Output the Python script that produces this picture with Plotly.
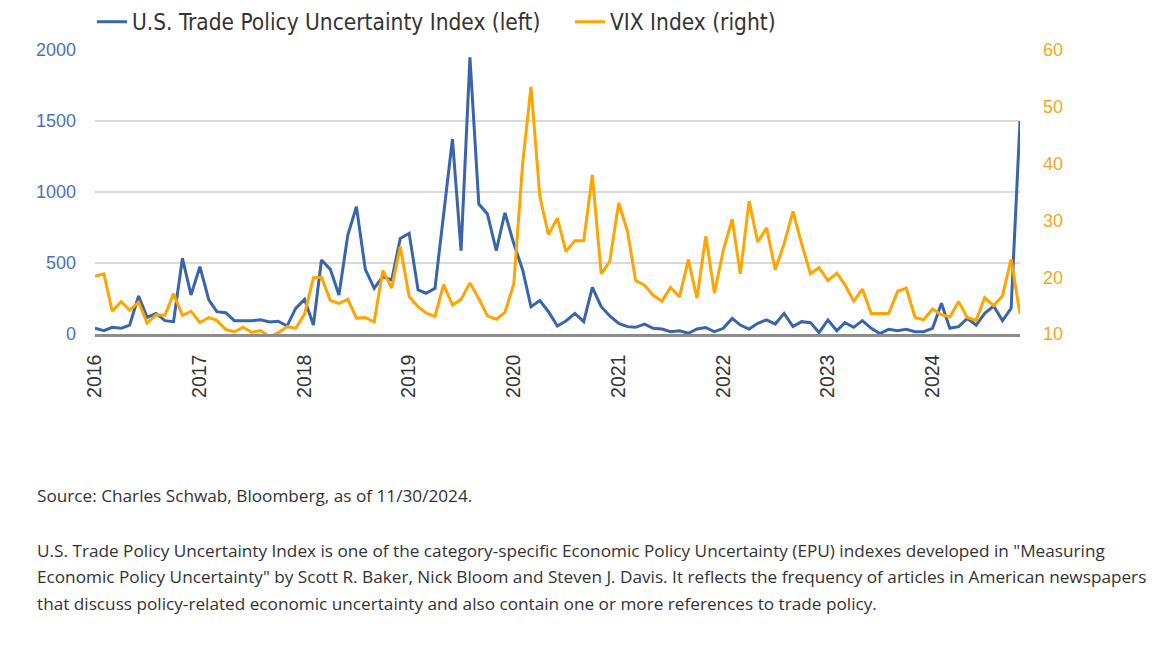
import pandas as pd
import plotly.graph_objects as go

months = pd.date_range("2016-01-01", "2024-11-01", freq="MS")

tpu_index = [
    40, 23, 47, 40, 63, 268, 117, 145, 94, 87, 533, 275,          # 2016
    474, 240, 157, 150, 94, 94, 94, 100, 85, 90, 56, 180,         # 2017
    244, 63, 521, 455, 275, 697, 897, 455, 321, 404, 380, 673,    # 2018
    709, 310, 287, 321, 847, 1373, 587, 1948, 915, 845, 587, 854, # 2019
    637, 451, 192, 235, 157, 56, 92, 145, 87, 328, 192, 127,      # 2020
    75, 52, 47, 70, 40, 35, 16, 23, 5, 35, 45, 16,                # 2021
    40, 110, 63, 35, 75, 99, 70, 145, 52, 87, 80, 10,             # 2022
    99, 23, 80, 47, 94, 40, 3, 33, 23, 33, 16, 16,                # 2023
    40, 216, 40, 52, 110, 63, 145, 197, 94, 181, 1500,            # 2024
]

vix_index = [
    20.2, 20.6, 14.0, 15.7, 14.2, 15.6, 11.9, 13.4, 13.3, 17.1, 13.3, 14.0,
    12.0, 12.9, 12.4, 10.8, 10.4, 11.2, 10.3, 10.6, 9.5, 10.2, 11.3, 11.0,
    13.5, 19.9, 20.0, 15.9, 15.4, 16.1, 12.8, 12.9, 12.1, 21.2, 18.1, 25.4,
    16.6, 14.8, 13.7, 13.1, 18.7, 15.1, 16.1, 19.0, 16.2, 13.2, 12.6, 13.8,
    18.8, 40.1, 53.5, 34.2, 27.5, 30.4, 24.5, 26.4, 26.4, 38.0, 20.6, 22.8,
    33.1, 28.0, 19.4, 18.6, 16.8, 15.8, 18.2, 16.5, 23.1, 16.3, 27.2, 17.2,
    24.8, 30.2, 20.6, 33.4, 26.2, 28.7, 21.3, 25.9, 31.6, 25.9, 20.6, 21.7,
    19.4, 20.7, 18.7, 15.8, 17.9, 13.6, 13.6, 13.6, 17.5, 18.1, 12.9, 12.5,
    14.4, 13.4, 13.0, 15.7, 12.9, 12.4, 16.4, 15.0, 16.7, 23.2, 13.5,
]

year_ticks = ["2016", "2017", "2018", "2019", "2020", "2021", "2022", "2023", "2024"]
left_ticks = [0, 500, 1000, 1500, 2000]
right_ticks = [10, 20, 30, 40, 50, 60]

source_text = "Source: Charles Schwab, Bloomberg, as of 11/30/2024."
note_lines = [
    'U.S. Trade Policy Uncertainty Index is one of the category-specific Economic Policy Uncertainty (EPU) indexes developed in "Measuring',
    'Economic Policy Uncertainty" by Scott R. Baker, Nick Bloom and Steven J. Davis. It reflects the frequency of articles in American newspapers',
    'that discuss policy-related economic uncertainty and also contain one or more references to trade policy.',
]

BLUE = "#3a64ab"
ORANGE = "#ffa500"
NARROW = "Liberation Sans Narrow, DejaVu Sans Condensed, Arial Narrow, sans-serif"
BODY = "Open Sans, Roboto, sans-serif"

# page body has an 8px margin; figure is sized/offset to compensate
W, H = 1155, 634
L, T = 87, 42
PW, PH = 925, 284
R = W - L - PW
B = H - T - PH

fig = go.Figure()
fig.add_trace(go.Scatter(
    x=months, y=tpu_index, mode="lines", name="U.S. Trade Policy Uncertainty Index (left)",
    line=dict(color=BLUE, width=3), yaxis="y", legend="legend",
))
fig.add_trace(go.Scatter(
    x=months, y=vix_index, mode="lines", name="VIX Index (right)",
    line=dict(color=ORANGE, width=3), yaxis="y2", legend="legend2",
))

legend_common = dict(
    orientation="h", xanchor="left", y=1 - 14 / H, yanchor="middle",
    xref="container", yref="container",
    font=dict(family=NARROW, size=22.5, color="#333333"),
    itemwidth=30, bgcolor="rgba(0,0,0,0)",
)

fig.update_layout(
    width=W, height=H,
    paper_bgcolor="white", plot_bgcolor="white",
    margin=dict(l=L, r=R, t=T, b=B, autoexpand=False),
    showlegend=True,
    legend=dict(x=84 / W, **legend_common),
    legend2=dict(x=562 / W, **legend_common),
    xaxis=dict(
        range=[months[0], months[-1]],
        tickvals=[f"{y}-01-01" for y in year_ticks], ticktext=year_ticks,
        tickangle=-90, tickfont=dict(family="Liberation Sans, Arial, sans-serif", size=19.5, color="#333333"),
        showgrid=False, showline=True, linecolor="#8c8c8c", linewidth=2.5,
        ticks="", zeroline=False, ticklabelstandoff=10,
    ),
    yaxis=dict(
        range=[0, 2000], tickvals=left_ticks,
        tickfont=dict(family="Liberation Sans, Arial, sans-serif", size=18, color="#4a72b8"),
        showgrid=True, gridcolor="#d9d9d9", gridwidth=1.5,
        zeroline=False, showline=False, ticks="", ticklabelstandoff=18,
    ),
    yaxis2=dict(
        range=[10, 60], tickvals=right_ticks, overlaying="y", side="right",
        tickfont=dict(family="Liberation Sans, Arial, sans-serif", size=18, color="#f5a623"),
        showgrid=False, zeroline=False, showline=False, ticks="", ticklabelstandoff=22,
    ),
)

def page_y(py):
    # convert page pixel y (reference) to paper coordinate
    return (H - B - (py - 8)) / PH

fig.add_annotation(
    text=source_text, xref="paper", yref="paper", x=-L / PW, y=page_y(495),
    xanchor="left", yanchor="middle", showarrow=False, xshift=35 - 8,
    font=dict(family=BODY, size=17.2, color="#333333"),
)
for i, line in enumerate(note_lines):
    fig.add_annotation(
        text=line, xref="paper", yref="paper", x=-L / PW, y=page_y(550 + 26.5 * i),
        xanchor="left", yanchor="middle", showarrow=False, xshift=35 - 8,
        font=dict(family=BODY, size=17.2, color="#333333"),
    )

fig.write_html("out.html")
